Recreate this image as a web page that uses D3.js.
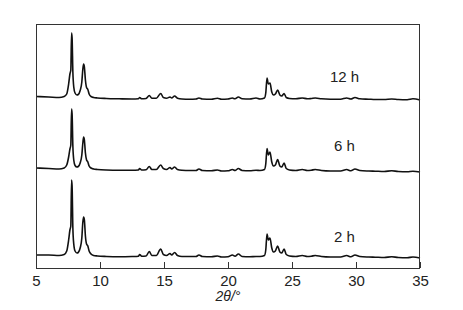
<!DOCTYPE html>
<html><head><meta charset="utf-8">
<script src="https://cdn.jsdelivr.net/npm/d3@7/dist/d3.min.js"></script>
<style>html,body{margin:0;padding:0;background:#fff;}svg{display:block;}</style>
</head><body>
<svg id="chart" width="463" height="310"></svg>
<script>
// 2θ positions (degrees)
const twoTheta = [5.0,6.0,6.8,7.2,7.4,7.55,7.65,7.72,7.78,7.82,7.88,7.95,8.05,8.2,8.3,8.45,8.58,8.66,8.72,8.78,8.86,8.95,9.05,9.15,9.3,9.5,9.8,10.5,11.5,12.5,13.0,13.1,13.25,13.6,13.85,14.05,14.4,14.74,14.95,15.2,15.47,15.6,15.83,16.05,16.4,17.0,17.5,17.73,18.0,18.7,19.17,19.5,20.0,20.34,20.55,20.81,21.1,21.7,22.19,22.5,22.85,22.95,23.05,23.15,23.28,23.42,23.55,23.7,23.88,24.05,24.2,24.38,24.55,24.8,25.3,25.8,26.2,26.5,26.82,27.3,28.0,28.8,29.27,29.6,29.92,30.3,31.0,31.5,32.2,32.79,33.3,34.0,34.45,35.0];
// intensities (a.u.) for each sample
const int2h = [3,3,2.5,3.5,7,18,28,32,78,72,30,14,7,5,5.5,10,20,36,41,38,22,14,12,7,4,2.5,2,1.5,1.2,1.5,1.8,3.5,1.8,2,6.5,2.5,2.5,9,3.5,2.5,4.5,3,5.5,2.5,1.5,1.5,1.5,3,1.5,1.2,2,1,1.2,3,1.8,4,1.5,1.2,1.5,1.5,2.5,8,24,18,20,10,6,7,12,6,5,9,3.5,2,1.5,2.5,1.5,1.8,2.5,1.5,1,1,2.5,1.2,3,1.5,1,0.8,0.5,1.2,0.5,0.3,1,0];
const int6h = [4,3.5,3,4,7,15,23,27,63,58,26,12,6.5,5,5.5,9,17,29,35,32,19,12,10,6,4,3,2.5,2,1.8,1.8,2,3.5,2,2.2,5.5,2.5,2.5,7,3.5,2.5,4.5,3,5,2.5,1.8,1.5,1.5,3,1.5,1.2,2,1,1.2,2.5,1.5,3.5,1.5,1.2,1.8,1.5,2.5,8,23.5,17,20,10,6,7,12.5,6,5,9,3.5,2,1.5,2.5,1.5,1.8,2.5,1.5,1,1,2.5,1.2,3,1.5,1,0.8,0.5,1.2,0.5,0.3,0.8,0];
const int12h = [3.5,3,2.5,3.5,6,16,26,30,67,62,28,13,7,5,5.5,9.5,18,31,36,33,20,12.5,10.5,6,3.5,2.5,2,1.5,1.2,1,1.2,2.5,1.2,1.5,4.5,1.8,1.8,6.5,2.5,1.8,3,2,4,1.8,1,0.8,1,2,1,0.8,1.8,0.8,1,2,1.2,3,1.2,1,2,1,2,7,22,16,17,8,5,6,10,5,4,6.5,2.5,1.5,1.2,2,1.2,1.5,2,1.2,0.8,0.8,2,1,2.5,1.2,0.8,0.5,0.5,1,0.5,0.3,1.2,0];
const seriesNames = ["2 h","6 h","12 h"];
const seriesOffsets = [10, 96, 168];
const xTicks = [5,10,15,20,25,30,35];
const labelX = 29.1;
const labelY = [26, 117, 186];

const series = [int2h, int6h, int12h];
const svg = d3.select("#chart");
const m = {l:36, r:43, t:24, b:42};
const W = 463, H = 310;
const x = d3.scaleLinear().domain([5,35]).range([m.l, W-m.r]);
const y = d3.scaleLinear().domain([0,244]).range([H-m.b, m.t]);

const line = d3.line().curve(d3.curveMonotoneX);
series.forEach((vals,i)=>{
  const pts = twoTheta.map((t,j)=>[x(t), y(vals[j]+seriesOffsets[i])]);
  svg.append("path").attr("d", line(pts)).attr("fill","none")
    .attr("stroke","#111").attr("stroke-width",1.6).attr("stroke-linejoin","round");
  svg.append("text").attr("x", x(labelX)).attr("y", y(labelY[i]))
    .attr("text-anchor","middle").attr("font-family","Liberation Sans, Arial, sans-serif")
    .attr("font-size",15).attr("fill","#222").text(seriesNames[i]);
});

// frame
svg.append("rect").attr("x", m.l+0.5).attr("y", m.t+0.5)
  .attr("width", W-m.r-m.l-1).attr("height", H-m.b-m.t).attr("fill","none")
  .attr("stroke","#333").attr("stroke-width",1);

const ax = svg.append("g").attr("transform",`translate(0,${H-m.b})`)
  .call(d3.axisBottom(x).tickValues(xTicks).tickSizeInner(-6).tickSizeOuter(0).tickPadding(7));
ax.select(".domain").remove();
ax.selectAll(".tick line").attr("stroke","#333");
ax.selectAll("text").attr("font-family","Liberation Sans, Arial, sans-serif").attr("font-size",15).attr("fill","#222");

svg.append("text").attr("x", x(20)).attr("y", 301).attr("text-anchor","middle")
  .attr("font-family","Liberation Sans, Arial, sans-serif").attr("font-size",14)
  .attr("font-style","italic").attr("fill","#222").text("2θ/°");
</script>
</body></html>
